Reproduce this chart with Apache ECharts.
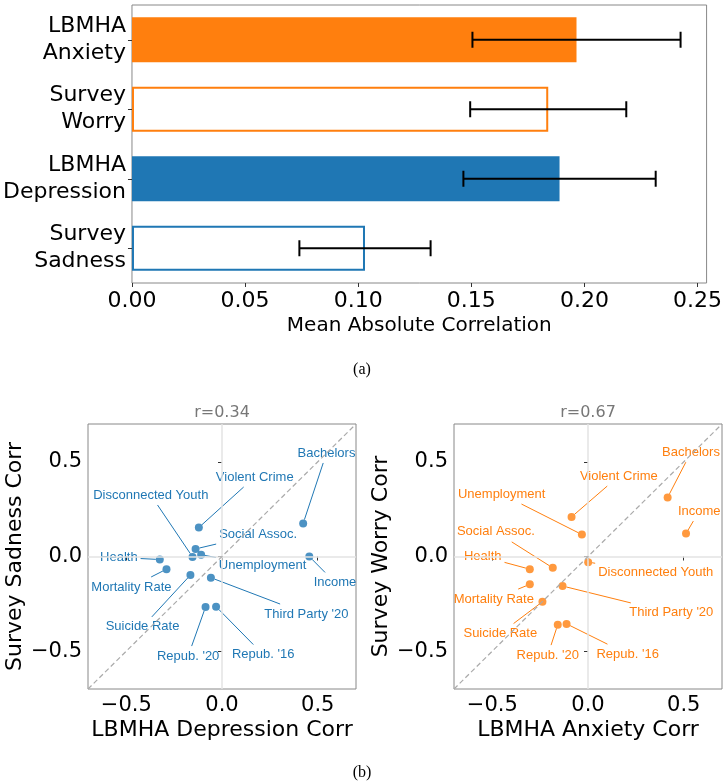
<!DOCTYPE html>
<html>
<head>
<meta charset="utf-8">
<script src="https://cdn.jsdelivr.net/npm/echarts@6/dist/echarts.min.js"></script>
<style>
html,body{margin:0;padding:0;background:#fff}
#main{width:725px;height:784px}
</style>
</head>
<body>
<div id="main"></div>
<script>
// panel (a): mean absolute correlation
var barCats = ['LBMHA\nAnxiety', 'Survey\nWorry', 'LBMHA\nDepression', 'Survey\nSadness']
var barVals = [0.1965, 0.184, 0.189, 0.103]
var barErrs = [0.046, 0.0345, 0.0425, 0.029]
var barTicks = [0, 0.05, 0.10, 0.15, 0.20, 0.25]

// panel (b): per-variable correlations
var names = ['Bachelors', 'Violent Crime', 'Disconnected Youth', 'Social Assoc.', 'Unemployment', 'Health',
  'Mortality Rate', 'Income', 'Suicide Rate', "Third Party '20", "Repub. '20", "Repub. '16"]
var depCorr = [0.424, -0.121, -0.154, -0.138, -0.109, -0.325, -0.29, 0.456, -0.165, -0.058, -0.086, -0.031]
var sadCorr = [0.175, 0.153, -0.002, 0.040, 0.009, -0.016, -0.067, 0.0, -0.098, -0.112, -0.267, -0.265]
var anxCorr = [0.416, -0.086, 0.001, -0.184, -0.032, -0.304, -0.304, 0.512, -0.238, -0.133, -0.158, -0.112]
var worCorr = [0.312, 0.209, -0.03, -0.06, 0.116, -0.067, -0.147, 0.121, -0.239, -0.156, -0.36, -0.356]
var scatterTicks = [-0.5, 0, 0.5]

// where the annotation texts sit (data units)
var depTextX = [0.546, 0.171, -0.372, 0.189, 0.212, -0.539, -0.473, 0.59, -0.415, 0.441, -0.177, 0.215]
var depTextY = [0.547, 0.42, 0.325, 0.118, -0.049, -0.005, -0.161, -0.137, -0.372, -0.304, -0.526, -0.518]
var anxTextX = [0.538, 0.161, 0.354, -0.481, -0.451, -0.55, -0.492, 0.581, -0.458, 0.435, -0.21, 0.207]
var anxTextY = [0.551, 0.425, -0.084, 0.13, 0.33, 0.0, -0.225, 0.24, -0.407, -0.298, -0.521, -0.516]

var orange = '#ff7f0e'
var blue = '#1f77b4'
var labelFont = '13px "Liberation Sans", Arial, sans-serif'
var mainFont = 'DejaVu Sans'

var barStyles = [
  {color: orange},
  {color: '#fff', borderColor: orange, borderWidth: 2},
  {color: blue},
  {color: '#fff', borderColor: blue, borderWidth: 2}
]

var ctx = document.createElement('canvas').getContext('2d')
ctx.font = labelFont
function textWidth(s){ return ctx.measureText(s).width }

function fmtTick(v){
  return v < 0 ? '\u2212' + Math.abs(v).toFixed(1) : v.toFixed(1)
}

function renderErr(params, api){
  var lo = api.coord([api.value(0), api.value(2)])
  var hi = api.coord([api.value(1), api.value(2)])
  var cap = 8
  var st = {stroke: '#000', lineWidth: 2}
  return {type: 'group', children: [
    {type: 'line', shape: {x1: lo[0], y1: lo[1], x2: hi[0], y2: hi[1]}, style: st},
    {type: 'line', shape: {x1: lo[0], y1: lo[1] - cap, x2: lo[0], y2: lo[1] + cap}, style: st},
    {type: 'line', shape: {x1: hi[0], y1: hi[1] - cap, x2: hi[0], y2: hi[1] + cap}, style: st}
  ]}
}

function labelRenderer(color){
  return function(params, api){
    var i = api.value(4)
    var t = api.coord([api.value(0), api.value(1)])
    var p = api.coord([api.value(2), api.value(3)])
    var name = names[i]
    var hw = textWidth(name) / 2 + 3, hh = 10
    var dx = p[0] - t[0], dy = p[1] - t[1]
    var len = Math.sqrt(dx * dx + dy * dy)
    var s = Math.min(dx ? hw / Math.abs(dx) : Infinity, dy ? hh / Math.abs(dy) : Infinity)
    var kids = [{type: 'text', style: {text: name, x: t[0], y: t[1], align: 'center', verticalAlign: 'middle', fill: color, font: labelFont}}]
    if (s < 1){
      var k = 4 / len
      kids.push({type: 'line', shape: {x1: t[0] + dx * s, y1: t[1] + dy * s, x2: p[0] - dx * k, y2: p[1] - dy * k},
        style: {stroke: color, lineWidth: 1}})
    }
    return {type: 'group', children: kids}
  }
}

function scatterXAxis(idx, name){
  return {
    type: 'value', gridIndex: idx, min: -0.7, max: 0.7,
    name: name, nameLocation: 'middle', nameGap: 30,
    nameTextStyle: {fontSize: 22, color: '#000', fontFamily: mainFont},
    axisLine: {show: false}, splitLine: {show: false},
    axisTick: {show: true, length: 4, customValues: scatterTicks, lineStyle: {color: '#333'}},
    axisLabel: {customValues: scatterTicks, formatter: fmtTick, fontSize: 21, color: '#000', fontFamily: mainFont, margin: 6}
  }
}
function scatterYAxis(idx, name){
  return {
    type: 'value', gridIndex: idx, min: -0.7, max: 0.7,
    name: name, nameLocation: 'middle', nameGap: 62,
    nameTextStyle: {fontSize: 22, color: '#000', fontFamily: mainFont},
    axisLine: {show: false}, splitLine: {show: false},
    axisTick: {show: true, length: 4, customValues: scatterTicks, lineStyle: {color: '#333'}},
    axisLabel: {customValues: scatterTicks, formatter: fmtTick, fontSize: 21, color: '#000', fontFamily: mainFont, margin: 6}
  }
}

function refLines(){
  var g = {color: '#e3e3e3', width: 1.5, type: 'solid'}
  var d = {color: '#aaaaaa', width: 1.2, type: [5, 3]}
  return {
    silent: true, symbol: ['none', 'none'], label: {show: false}, animation: false,
    emphasis: {disabled: true},
    data: [
      {xAxis: 0, lineStyle: g},
      {yAxis: 0, lineStyle: g},
      [{coord: [-0.7, -0.7], lineStyle: d}, {coord: [0.7, 0.7], lineStyle: d}]
    ]
  }
}

function scatterSeries(idx, xs, ys, color){
  return {
    type: 'scatter', xAxisIndex: idx, yAxisIndex: idx,
    data: xs.map(function(x, i){ return [x, ys[i]] }),
    symbolSize: 8, itemStyle: {color: color}, z: 3,
    markLine: refLines()
  }
}
function labelSeries(idx, tx, ty, xs, ys, color){
  return {
    type: 'custom', xAxisIndex: idx, yAxisIndex: idx, clip: false, z: 4,
    encode: {x: [0, 2], y: [1, 3]},
    data: tx.map(function(x, i){ return [x, ty[i], xs[i], ys[i], i] }),
    renderItem: labelRenderer(color)
  }
}

var chart = echarts.init(document.getElementById('main'))
chart.setOption({
  animation: false,
  textStyle: {fontFamily: mainFont},
  grid: [
    {left: 130, top: 5, width: 578, height: 278, show: true, borderColor: '#888', borderWidth: 1},
    {left: 88, top: 424, width: 268, height: 265, show: true, borderColor: '#888', borderWidth: 1},
    {left: 454, top: 424, width: 268, height: 265, show: true, borderColor: '#888', borderWidth: 1}
  ],
  xAxis: [
    {
      type: 'value', gridIndex: 0, min: 0, max: 0.254,
      name: 'Mean Absolute Correlation', nameLocation: 'middle', nameGap: 33,
      nameTextStyle: {fontSize: 20, color: '#000'},
      axisLine: {show: false}, splitLine: {show: false},
      axisTick: {show: true, length: 4, customValues: barTicks, lineStyle: {color: '#333'}},
      axisLabel: {customValues: barTicks, formatter: function(v){ return v.toFixed(2) }, fontSize: 22, color: '#000', margin: 7}
    },
    scatterXAxis(1, 'LBMHA Depression Corr'),
    scatterXAxis(2, 'LBMHA Anxiety Corr')
  ],
  yAxis: [
    {
      type: 'category', gridIndex: 0, data: barCats, inverse: true,
      axisLine: {show: false},
      axisTick: {show: true, alignWithLabel: true, length: 4, lineStyle: {color: '#333'}},
      axisLabel: {fontSize: 22, lineHeight: 27, color: '#000', margin: 6, align: 'right'}
    },
    scatterYAxis(1, 'Survey Sadness Corr'),
    scatterYAxis(2, 'Survey Worry Corr')
  ],
  graphic: [
    {type: 'text', x: 222, y: 413, style: {text: 'r=0.34', font: '16px "DejaVu Sans"', fill: '#777', align: 'center', verticalAlign: 'middle'}},
    {type: 'text', x: 588, y: 413, style: {text: 'r=0.67', font: '16px "DejaVu Sans"', fill: '#777', align: 'center', verticalAlign: 'middle'}},
    {type: 'text', x: 362, y: 370, style: {text: '(a)', font: '16px "Liberation Serif"', fill: '#000', align: 'center', verticalAlign: 'middle'}},
    {type: 'text', x: 362, y: 773, style: {text: '(b)', font: '16px "Liberation Serif"', fill: '#000', align: 'center', verticalAlign: 'middle'}}
  ],
  series: [
    {
      type: 'bar', xAxisIndex: 0, yAxisIndex: 0, barWidth: '65%', silent: true,
      data: barVals.map(function(v, i){ return {value: v, itemStyle: barStyles[i]} })
    },
    {
      type: 'custom', xAxisIndex: 0, yAxisIndex: 0, z: 5,
      encode: {x: [0, 1], y: 2},
      data: barVals.map(function(v, i){ return [v - barErrs[i], v + barErrs[i], i] }),
      renderItem: renderErr
    },
    scatterSeries(1, depCorr, sadCorr, blue),
    labelSeries(1, depTextX, depTextY, depCorr, sadCorr, blue),
    scatterSeries(2, anxCorr, worCorr, orange),
    labelSeries(2, anxTextX, anxTextY, anxCorr, worCorr, orange)
  ]
})
</script>
</body>
</html>
